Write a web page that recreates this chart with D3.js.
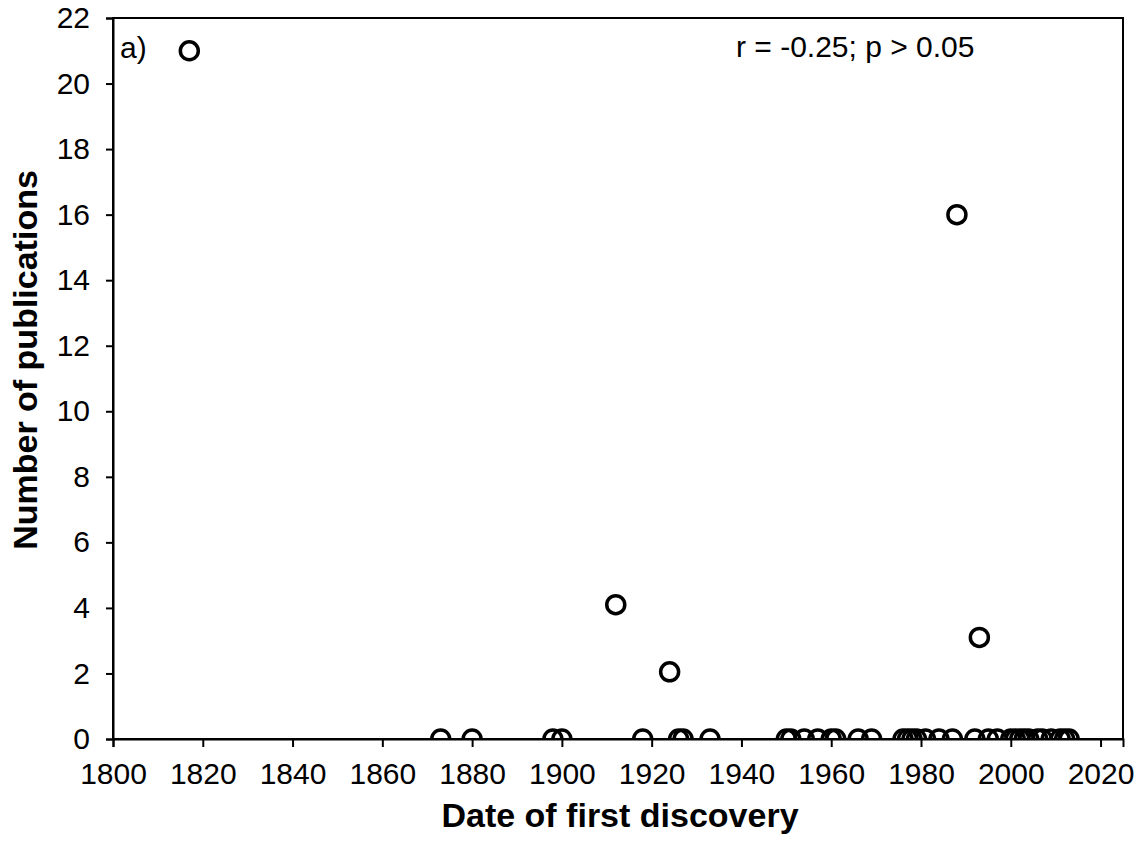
<!DOCTYPE html>
<html>
<head>
<meta charset="utf-8">
<script src="https://cdn.jsdelivr.net/npm/d3@7"></script>
<style>
  html, body { margin: 0; padding: 0; background: #fff; }
  svg { display: block; font-family: Arial, "Liberation Sans", sans-serif; }
</style>
</head>
<body>
<svg id="chart" width="1141" height="848"></svg>
<script>
// Species records: year of first discovery and number of publications
const discoveryYears = [1817, 1988, 1912, 1924, 1993,
  1873, 1880, 1898, 1900, 1918, 1926, 1927, 1933,
  1950, 1951, 1954, 1957, 1960, 1961, 1966, 1969,
  1976, 1977, 1978, 1979, 1981, 1984, 1987, 1992,
  1995, 1997, 2000, 2001, 2002, 2003, 2004, 2006, 2007,
  2009, 2011, 2012, 2013];
const publicationCounts = [21, 16, 4.1, 2.05, 3.1,
  0, 0, 0, 0, 0, 0, 0, 0,
  0, 0, 0, 0, 0, 0, 0, 0,
  0, 0, 0, 0, 0, 0, 0, 0,
  0, 0, 0, 0, 0, 0, 0, 0, 0,
  0, 0, 0, 0];
const xTicks = [1800, 1820, 1840, 1860, 1880, 1900, 1920, 1940, 1960, 1980, 2000, 2020];
const yTicks = [0, 2, 4, 6, 8, 10, 12, 14, 16, 18, 20, 22];

const svg = d3.select("#chart");
const plotLeft = 113, plotRight = 1123, plotTop = 18, plotBottom = 739;

const x = d3.scaleLinear().domain([1800, 2025]).range([plotLeft, plotRight]);
const y = d3.scaleLinear().domain([0, 22]).range([plotBottom, plotTop]);

svg.append("defs").append("clipPath").attr("id", "plot-clip")
  .append("rect").attr("x", plotLeft).attr("y", plotTop)
  .attr("width", plotRight - plotLeft).attr("height", plotBottom - plotTop);

// Frame
svg.append("rect")
  .attr("x", plotLeft).attr("y", plotTop)
  .attr("width", plotRight - plotLeft).attr("height", plotBottom - plotTop)
  .attr("fill", "none").attr("stroke", "#000").attr("stroke-width", 2);

// Axes
const xAxis = svg.append("g")
  .attr("transform", `translate(0,${plotBottom})`)
  .call(d3.axisBottom(x).tickValues(xTicks).tickFormat(d3.format("d")).tickSize(8).tickPadding(16));
const yAxis = svg.append("g")
  .attr("transform", `translate(${plotLeft},0)`)
  .call(d3.axisLeft(y).tickValues(yTicks).tickFormat(d3.format("d")).tickSize(7).tickPadding(16));

[xAxis, yAxis].forEach(g => {
  g.select(".domain").attr("stroke", "#000").attr("stroke-width", 2);
  g.selectAll(".tick line").attr("stroke", "#000").attr("stroke-width", 2);
  g.selectAll(".tick text")
    .attr("fill", "#000")
    .style("font-size", "30px")
    .style("font-family", "Arial, 'Liberation Sans', sans-serif");
});

// Points (hollow rings, clipped to the plot frame)
const points = discoveryYears.map((yr, i) => ({ yr, n: publicationCounts[i] }));
svg.append("g").attr("clip-path", "url(#plot-clip)")
  .selectAll("circle").data(points).join("circle")
  .attr("cx", d => x(d.yr))
  .attr("cy", d => y(d.n))
  .attr("r", 9)
  .attr("fill", "none")
  .attr("stroke", "#000")
  .attr("stroke-width", 3.5);

// Panel label and statistics
svg.append("text").attr("x", 120).attr("y", 58)
  .style("font-size", "30px").text("a)");
svg.append("text").attr("x", 736).attr("y", 57)
  .style("font-size", "30px").text("r = -0.25; p > 0.05");

// Axis titles
svg.append("text")
  .attr("x", 620).attr("y", 827)
  .attr("text-anchor", "middle")
  .style("font-size", "34px").style("font-weight", "bold")
  .text("Date of first discovery");
svg.append("text")
  .attr("transform", "translate(37,360) rotate(-90)")
  .attr("text-anchor", "middle")
  .style("font-size", "34px").style("font-weight", "bold")
  .text("Number of publications");
</script>
</body>
</html>
